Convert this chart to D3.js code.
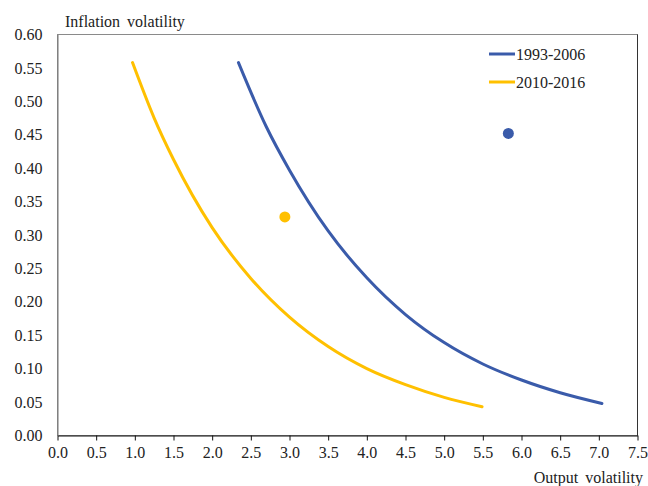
<!DOCTYPE html>
<html>
<head>
<meta charset="utf-8">
<script src="https://cdn.jsdelivr.net/npm/d3@7"></script>
</head>
<body style="margin:0">
<svg id="chart" width="648" height="486"></svg>
<script>
// Trade-off frontiers: output volatility (x) vs inflation volatility (y)
const seriesNames = ["1993-2006", "2010-2016"];
const seriesColors = ["#3A5BAA", "#FFC000"];

const frontier1993X = [2.34, 2.70, 3.00, 3.50, 4.00, 4.50, 5.00, 5.50, 6.00, 6.50, 7.04];
const frontier1993Y = [0.558, 0.462, 0.397, 0.306, 0.236, 0.181, 0.139, 0.107, 0.083, 0.064, 0.048];

const frontier2010X = [0.97, 1.25, 1.50, 2.00, 2.50, 3.00, 3.50, 4.00, 4.50, 5.00, 5.49];
const frontier2010Y = [0.558, 0.475, 0.413, 0.311, 0.235, 0.177, 0.133, 0.100, 0.076, 0.057, 0.043];

// Actual outcomes for each period
const outcomeX = [5.83, 2.94];
const outcomeY = [0.452, 0.327];

const xTicks = d3.range(0, 7.51, 0.5);
const yTicks = d3.range(0, 0.601, 0.05);

const FONT = "Liberation Serif";
const TEXT_COLOR = "#222";

const svg = d3.select("#chart")
  .attr("font-family", FONT)
  .style("display", "block")
  .style("background", "#fff");
const plotLeft = 57.5, plotRight = 637.5, plotTop = 34.5, plotBottom = 435.5;

const x = d3.scaleLinear().domain([0, 7.5]).range([plotLeft, plotRight]);
const y = d3.scaleLinear().domain([0, 0.6]).range([plotBottom, plotTop]);

// plot frame
svg.append("rect")
  .attr("x", plotLeft).attr("y", plotTop)
  .attr("width", plotRight - plotLeft).attr("height", plotBottom - plotTop)
  .attr("fill", "none").attr("stroke", "#8a8a8a").attr("stroke-width", 1);
svg.append("line")
  .attr("x1", plotRight).attr("x2", plotRight).attr("y1", plotTop).attr("y2", plotBottom)
  .attr("stroke", "#333").attr("stroke-width", 1);

// x axis
const xAxis = svg.append("g")
  .attr("transform", `translate(0,${plotBottom})`)
  .call(d3.axisBottom(x).tickValues(xTicks).tickFormat(d3.format(".1f")).tickSize(5).tickSizeOuter(0).tickPadding(6));
xAxis.attr("font-family", FONT).attr("font-size", 16);
xAxis.select(".domain").attr("stroke", "#111");
xAxis.selectAll(".tick line").attr("stroke", "#111");
xAxis.selectAll("text").attr("font-family", FONT).attr("font-size", 16).attr("fill", TEXT_COLOR);

// y axis
const yAxis = svg.append("g")
  .attr("transform", `translate(${plotLeft},0)`)
  .call(d3.axisLeft(y).tickValues(yTicks).tickFormat(d3.format(".2f")).tickSize(0).tickPadding(15));
yAxis.attr("font-family", FONT).attr("font-size", 16);
yAxis.select(".domain").attr("stroke", "#777");
yAxis.selectAll("text").attr("font-family", FONT).attr("font-size", 16).attr("fill", TEXT_COLOR);

// axis titles
svg.append("text")
  .attr("x", 65).attr("y", 27)
  .attr("font-family", FONT).attr("font-size", 16).attr("word-spacing", 3)
  .attr("fill", TEXT_COLOR)
  .text("Inflation volatility");
svg.append("text")
  .attr("x", 643).attr("y", 483)
  .attr("text-anchor", "end")
  .attr("font-family", FONT).attr("font-size", 16).attr("word-spacing", 3)
  .attr("fill", TEXT_COLOR)
  .text("Output volatility");

// frontier curves
const line = d3.line()
  .x(d => x(d[0])).y(d => y(d[1]))
  .curve(d3.curveMonotoneX);

const curves = [
  d3.zip(frontier1993X, frontier1993Y),
  d3.zip(frontier2010X, frontier2010Y)
];
curves.forEach((pts, i) => {
  svg.append("path")
    .datum(pts)
    .attr("d", line)
    .attr("fill", "none")
    .attr("stroke", seriesColors[i])
    .attr("stroke-width", 3)
    .attr("stroke-linecap", "round");
});

// outcome dots
outcomeX.forEach((v, i) => {
  svg.append("circle")
    .attr("cx", x(v)).attr("cy", y(outcomeY[i]))
    .attr("r", 5.5)
    .attr("fill", seriesColors[i]);
});

// legend
const legend = svg.append("g");
seriesNames.forEach((name, i) => {
  const ly = 54 + i * 28;
  legend.append("line")
    .attr("x1", 489).attr("x2", 515).attr("y1", ly).attr("y2", ly)
    .attr("stroke", seriesColors[i]).attr("stroke-width", 3);
  legend.append("text")
    .attr("x", 516).attr("y", ly + 5.5)
    .attr("font-family", FONT).attr("font-size", 16)
    .attr("fill", TEXT_COLOR)
    .text(name);
});
</script>
</body>
</html>
